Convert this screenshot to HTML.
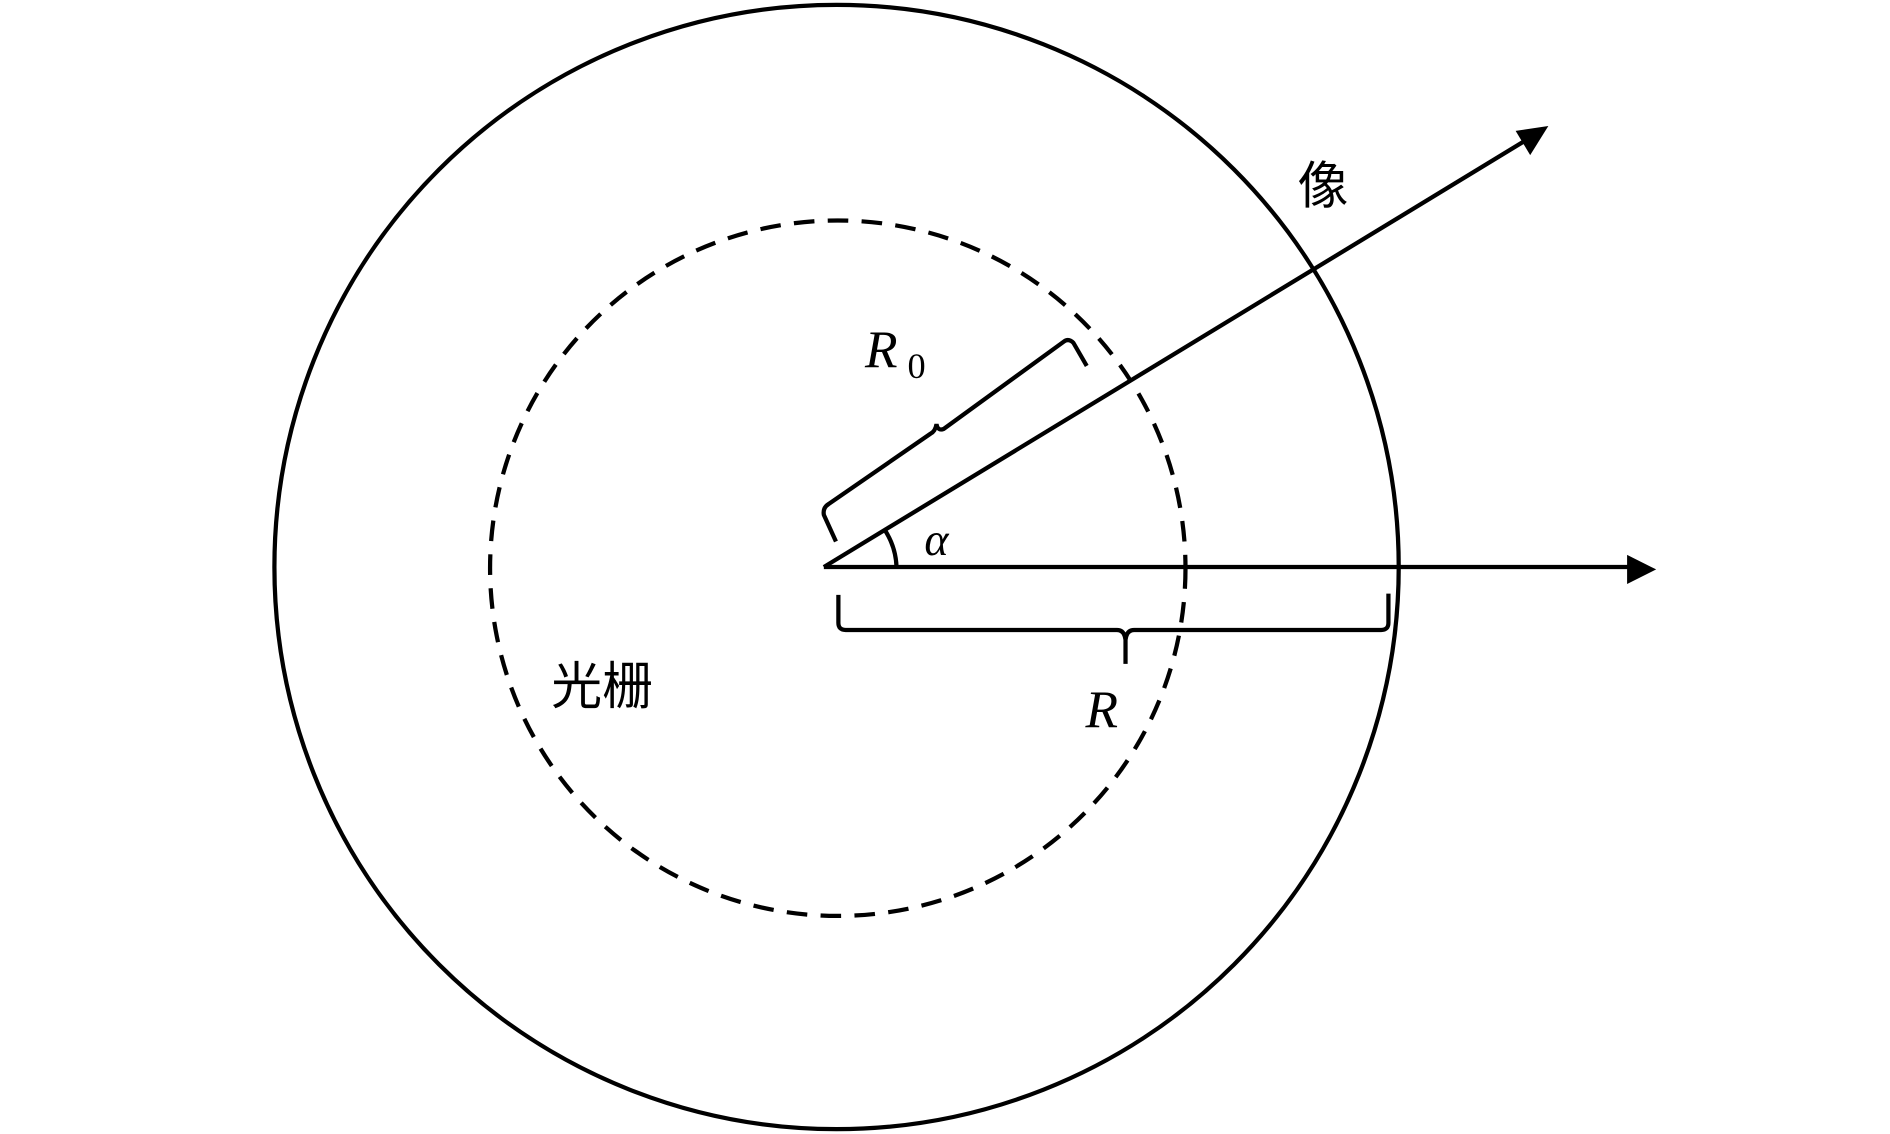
<!DOCTYPE html>
<html><head><meta charset="utf-8"><style>
html,body{margin:0;padding:0;background:#fff;}
svg{display:block;}
</style></head><body>
<svg width="1890" height="1134" viewBox="0 0 1560 936" xmlns="http://www.w3.org/2000/svg">
<g fill="none" stroke="#000" stroke-width="3.5">
<circle cx="690.5" cy="468" r="464"/>
<circle cx="691.5" cy="469" r="287" stroke-dasharray="17,11"/>
<line x1="680" y1="468" x2="1350" y2="468"/>
<line x1="680" y1="468" x2="1264" y2="113"/>
<path d="M740,468 A60,60 0 0 0 730,437"/>
<path d="M690,447 L680,425 Q679,419 684,416 L768,358 Q772,356 773,350 Q774,356 779,354 L878,282 Q882,279 886,283 L897,302"/>
<path d="M692,491 L692,514 Q692,520 698,520 L922,520 Q928,520 929,528 L929,548 M929,528 Q930,520 936,520 L1140,520 Q1146,520 1146,514 L1146,490"/>
</g>
<polygon points="1367,470 1343,458 1343,482" fill="#000"/>
<polygon points="1278,104 1251,108 1263,128" fill="#000"/>
<g font-family="Liberation Serif, serif" font-style="italic" fill="#000">
<text x="714" y="303" font-size="44">R</text>
<text x="749" y="312" font-size="30" font-style="normal">0</text>
<text x="763" y="458" font-size="38">α</text>
<text x="896" y="600" font-size="44">R</text>
</g>
<g font-family="Liberation Sans, 'Noto Sans CJK SC', sans-serif" font-size="42" fill="#000">
<text x="1071" y="168">像</text>
<text x="455" y="581">光栅</text>
</g>
</svg>
</body></html>
